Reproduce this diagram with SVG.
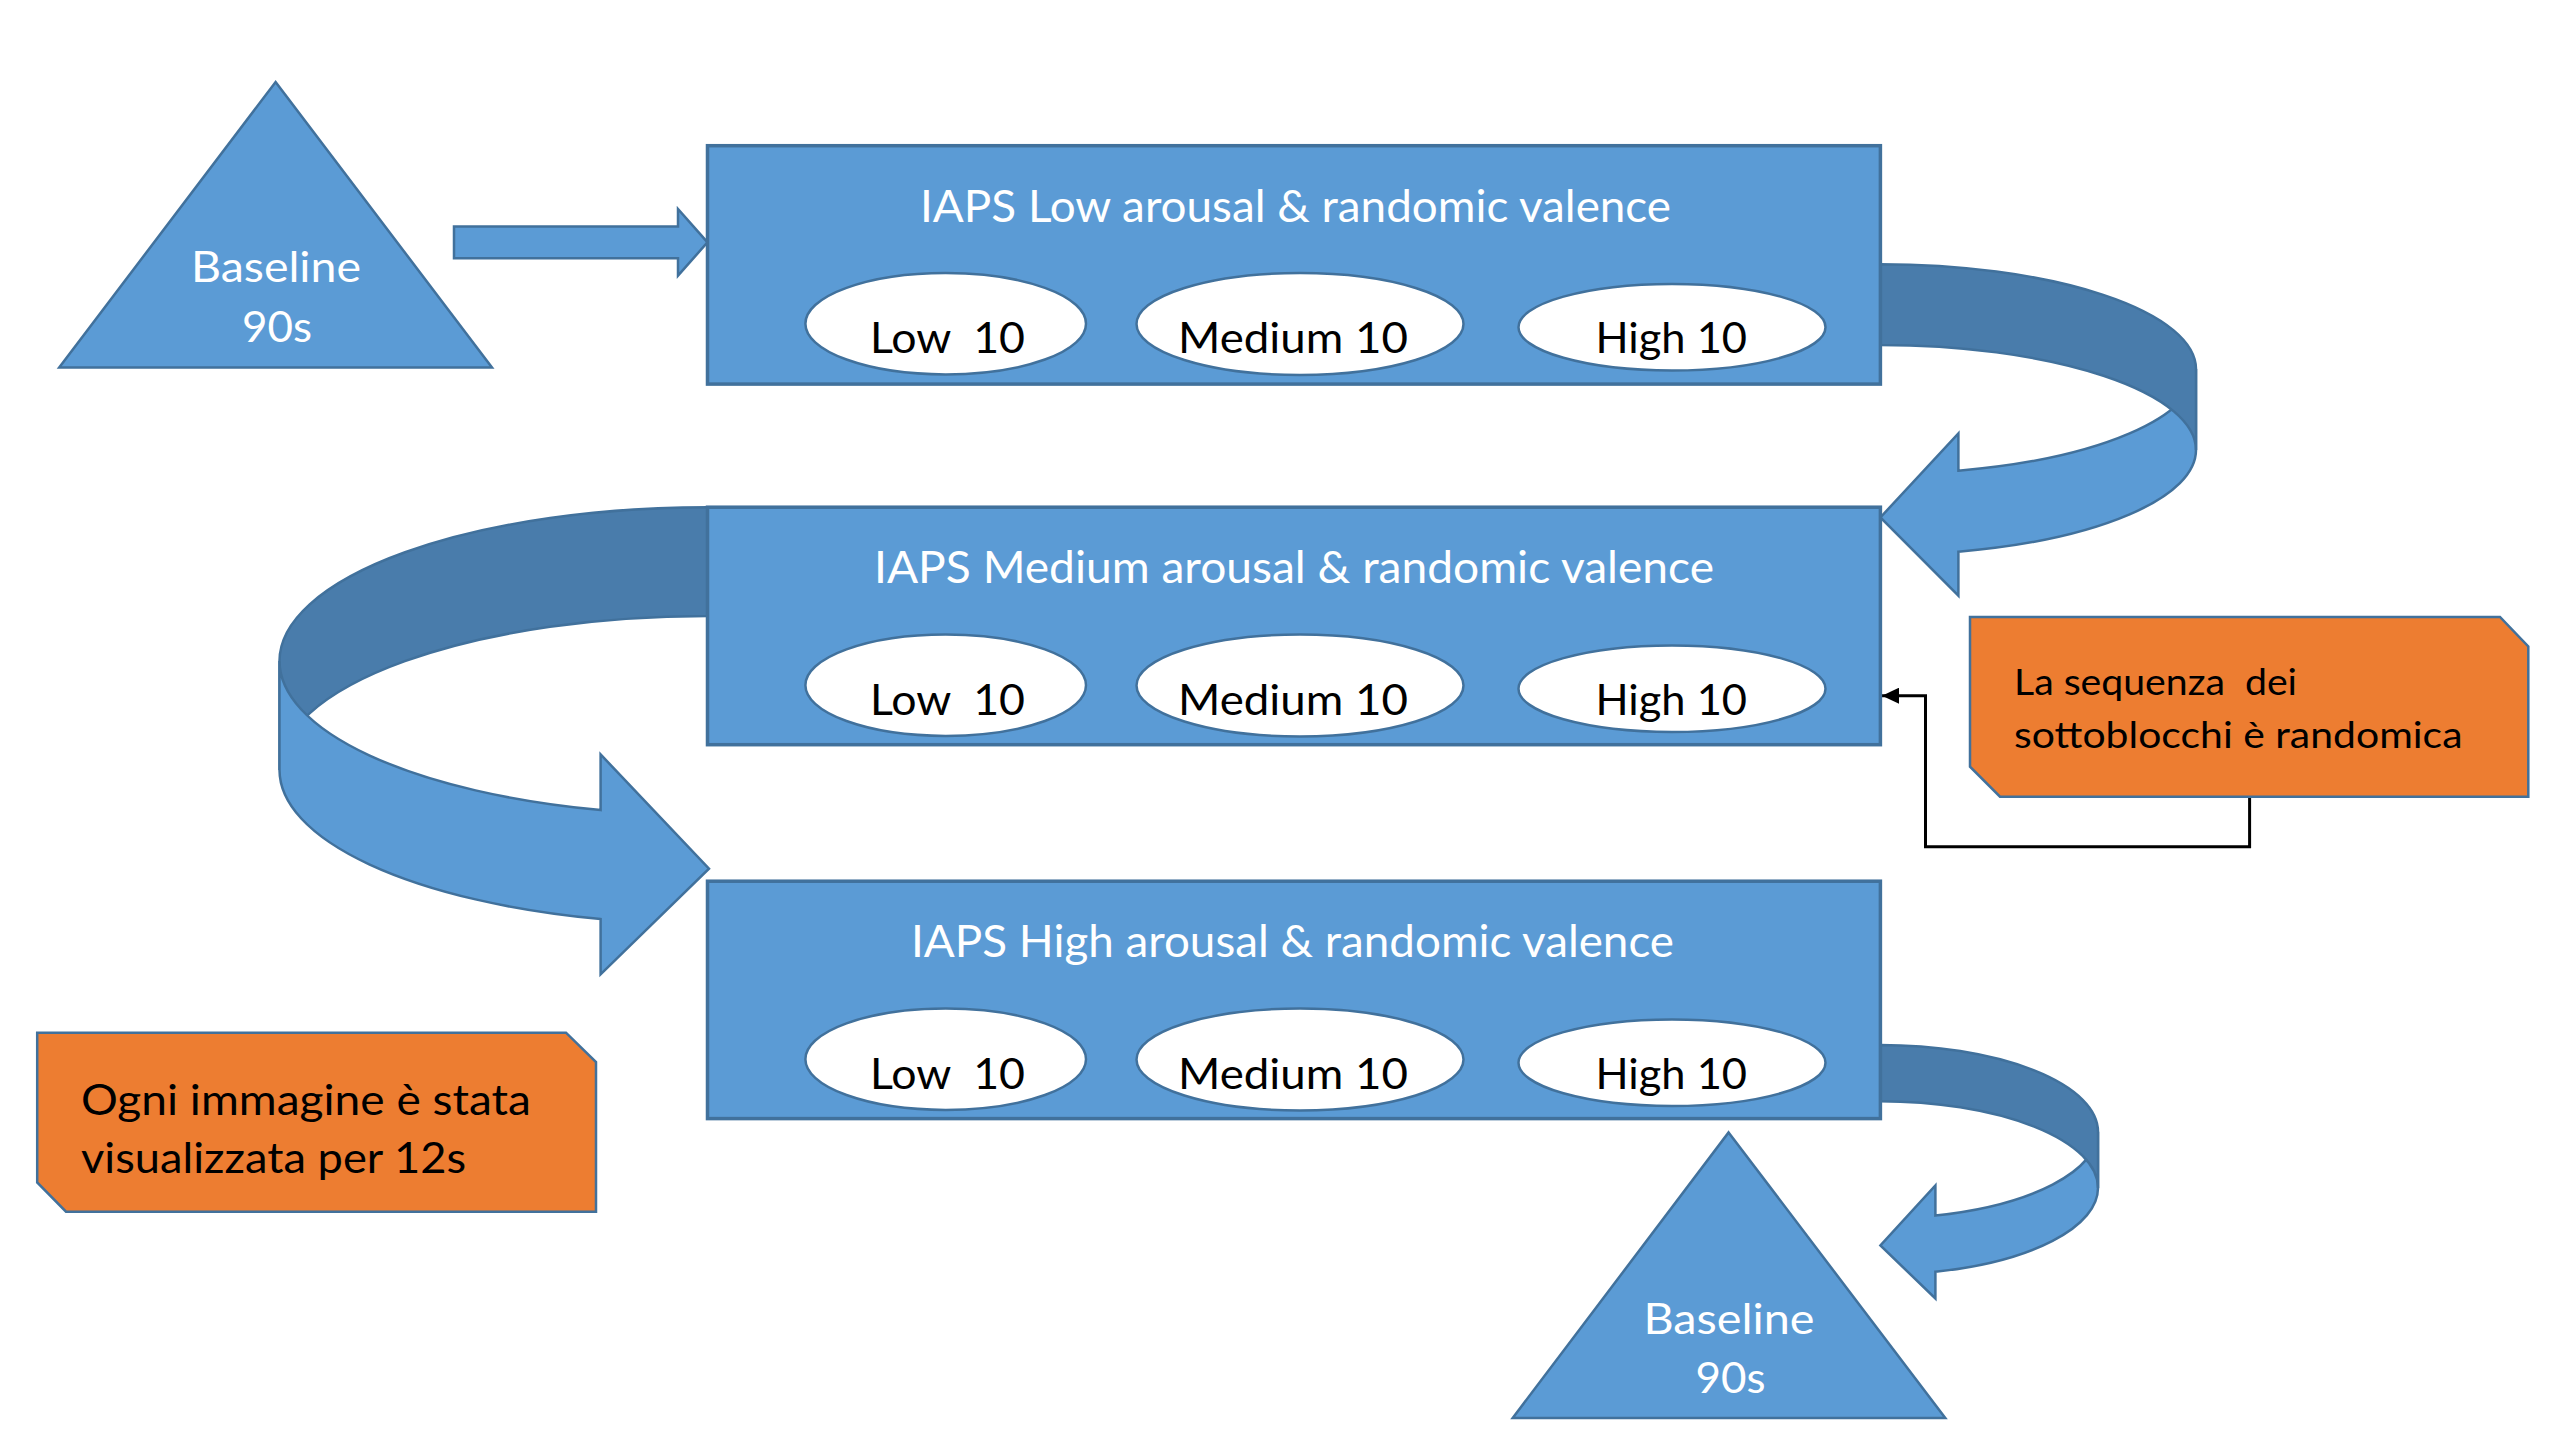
<svg xmlns="http://www.w3.org/2000/svg" width="2574" height="1446" viewBox="0 0 2574 1446">
<style>
.bg{fill:#ffffff}
.blue{fill:#5B9BD5;stroke:#41719C;stroke-width:2.5;stroke-linejoin:miter}
.dark{fill:#497CAB;stroke:#41719C;stroke-width:2.5}
.box{fill:#5B9BD5;stroke:#41719C;stroke-width:3.5}
.ell{fill:#ffffff;stroke:#41719C;stroke-width:2.5}
.note{fill:#ED7D31;stroke:#41719C;stroke-width:2.5}
.t{font-family:Lato,"Open Sans","Liberation Sans",sans-serif;white-space:pre}
.w{fill:#ffffff;font-size:44px}
.k{fill:#000000;font-size:43px}
.tri{fill:#ffffff;font-size:42px}
.n1{fill:#000000;font-size:37px}
.n2{fill:#000000;font-size:42px}
.elbow{fill:none;stroke:#000000;stroke-width:3}
</style>
<defs>
<marker id="ah" markerUnits="userSpaceOnUse" markerWidth="18" markerHeight="16" refX="17" refY="8" orient="auto">
<path d="M0,0 L17,8 L0,16 Z" fill="#000000"/>
</marker>
</defs>
<rect class="bg" x="0" y="0" width="2574" height="1446"/>

<g id="connectors">
<path id="arrow-start" class="blue" d="M454,226.4 L678,226.4 L678,209 L707.5,242.3 L678,275.7 L678,258.2 L454,258.2 Z"/>
<g id="curve-1-2">
<path class="blue" d="M2196,450 A316,105 0 0 1 1958.4,551.7 L1958.4,595.7 L1880.4,517.4 L1958.4,433.4 L1958.4,470.7 A316,105 0 0 0 2196,369 Z"/>
<path class="dark" d="M1880,264.2 A316,105 0 0 1 2196,369 L2196,450 A316,105 0 0 0 1880,345 Z"/>
</g>
<g id="curve-2-3">
<path class="dark" d="M707.5,507.2 A428,154 0 0 0 279.5,661 L279.5,770 A428,154 0 0 1 707.5,616 Z"/>
<path class="blue" d="M279.5,770 A428,154 0 0 0 600.6,919.1 L600.6,974.3 L709,868.7 L600.6,754.4 L600.6,810.1 A428,154 0 0 1 279.5,661 Z"/>
</g>
<g id="curve-3-end">
<path class="blue" d="M2098,1187.9 A218,86.7 0 0 1 1935.4,1271.7 L1935.4,1298.5 L1880.4,1245.4 L1935.4,1185.5 L1935.4,1215.5 A218,86.7 0 0 0 2098,1131.7 Z"/>
<path class="dark" d="M1880,1045 A218,86.7 0 0 1 2098,1131.7 L2098,1187.9 A218,86.7 0 0 0 1880,1101.2 Z"/>
</g>
<polyline id="note-link" class="elbow" points="2249.6,796.7 2249.6,846.7 1925.5,846.7 1925.5,695.7 1882,695.7" marker-end="url(#ah)"/>
</g>

<g id="baseline-start">
<polygon class="blue" points="275.6,82 492,367.5 59.2,367.5"/>
<text class="t tri" x="191" y="282" textLength="170" lengthAdjust="spacingAndGlyphs">Baseline</text>
<text class="t tri" x="242" y="342" textLength="70" lengthAdjust="spacingAndGlyphs">90s</text>
</g>

<g id="block-low">
<rect class="box" x="707.5" y="145.7" width="1172.9" height="238.4"/>
<text class="t w" x="920" y="221.7" textLength="751" lengthAdjust="spacingAndGlyphs">IAPS Low arousal &amp; randomic valence</text>
<ellipse class="ell" cx="945.7" cy="323.7" rx="140.3" ry="50.7"/>
<ellipse class="ell" cx="1300" cy="324" rx="163.5" ry="51"/>
<ellipse class="ell" cx="1672" cy="327.2" rx="153.5" ry="43.3"/>
<text class="t k" x="870" y="353.3" textLength="155" lengthAdjust="spacingAndGlyphs">Low  10</text>
<text class="t k" x="1178" y="353.3" textLength="230" lengthAdjust="spacingAndGlyphs">Medium 10</text>
<text class="t k" x="1595.5" y="353.3" textLength="151.5" lengthAdjust="spacingAndGlyphs">High 10</text>
</g>

<g id="block-medium">
<rect class="box" x="707.5" y="507.2" width="1172.9" height="237.5"/>
<text class="t w" x="874" y="583.3" textLength="840" lengthAdjust="spacingAndGlyphs">IAPS Medium arousal &amp; randomic valence</text>
<ellipse class="ell" cx="945.7" cy="685.2" rx="140.3" ry="50.7"/>
<ellipse class="ell" cx="1300" cy="685.5" rx="163.5" ry="51"/>
<ellipse class="ell" cx="1672" cy="688.7" rx="153.5" ry="43.3"/>
<text class="t k" x="870" y="714.8" textLength="155" lengthAdjust="spacingAndGlyphs">Low  10</text>
<text class="t k" x="1178" y="714.8" textLength="230" lengthAdjust="spacingAndGlyphs">Medium 10</text>
<text class="t k" x="1595.5" y="714.8" textLength="151.5" lengthAdjust="spacingAndGlyphs">High 10</text>
</g>

<g id="block-high">
<rect class="box" x="707.5" y="881.2" width="1172.9" height="237.4"/>
<text class="t w" x="911" y="957.2" textLength="763" lengthAdjust="spacingAndGlyphs">IAPS High arousal &amp; randomic valence</text>
<ellipse class="ell" cx="945.7" cy="1059.2" rx="140.3" ry="50.7"/>
<ellipse class="ell" cx="1300" cy="1059.5" rx="163.5" ry="51"/>
<ellipse class="ell" cx="1672" cy="1062.7" rx="153.5" ry="43.3"/>
<text class="t k" x="870" y="1088.8" textLength="155" lengthAdjust="spacingAndGlyphs">Low  10</text>
<text class="t k" x="1178" y="1088.8" textLength="230" lengthAdjust="spacingAndGlyphs">Medium 10</text>
<text class="t k" x="1595.5" y="1088.8" textLength="151.5" lengthAdjust="spacingAndGlyphs">High 10</text>
</g>

<g id="baseline-end">
<polygon class="blue" points="1728.6,1132.4 1945.3,1418 1512.7,1418"/>
<text class="t tri" x="1643.5" y="1334" textLength="171" lengthAdjust="spacingAndGlyphs">Baseline</text>
<text class="t tri" x="1695.5" y="1392.5" textLength="70" lengthAdjust="spacingAndGlyphs">90s</text>
</g>

<g id="note-random">
<polygon class="note" points="1970,617 2500,617 2528.3,646.5 2528.3,796.7 2000,796.7 1970,766.7"/>
<text class="t n1" x="2014" y="695" textLength="283" lengthAdjust="spacingAndGlyphs">La sequenza  dei</text>
<text class="t n1" x="2014" y="748.3" textLength="448.5" lengthAdjust="spacingAndGlyphs">sottoblocchi è randomica</text>
</g>

<g id="note-duration">
<polygon class="note" points="37.2,1032.7 566,1032.7 596,1062 596,1211.7 66,1211.7 37.2,1182.5"/>
<text class="t n2" x="81" y="1115" textLength="450" lengthAdjust="spacingAndGlyphs">Ogni immagine è stata</text>
<text class="t n2" x="81" y="1173" textLength="385" lengthAdjust="spacingAndGlyphs">visualizzata per 12s</text>
</g>
</svg>
